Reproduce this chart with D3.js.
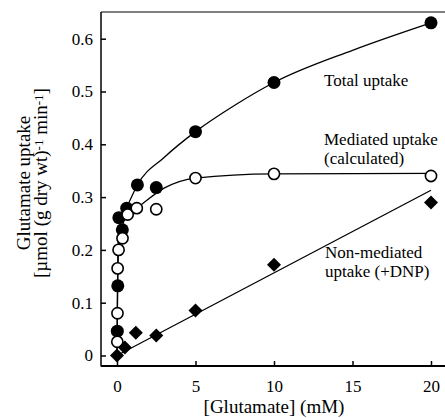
<!DOCTYPE html>
<html>
<head>
<meta charset="utf-8">
<script src="https://cdn.jsdelivr.net/npm/d3@7"></script>
<style>
  body { margin: 0; background: #fff; }
  svg text { font-family: "Liberation Serif", "Times New Roman", Tinos, "Nimbus Roman", "DejaVu Serif", serif !important; fill: #000; }
</style>
</head>
<body>
<div id="chart"></div>
<script>
// measured points [glutamate mM, uptake]
var totalUptake = [[0.02, 0.046], [0.05, 0.132], [0.12, 0.261], [0.34, 0.238], [0.62, 0.279],
                   [1.3, 0.323], [2.5, 0.318], [5, 0.424], [10, 0.517], [20, 0.63]];
var mediatedUptake = [[0.02, 0.026], [0.03, 0.08], [0.04, 0.165], [0.1, 0.2], [0.35, 0.222],
                      [0.68, 0.267], [1.26, 0.279], [2.5, 0.277], [5, 0.336], [10, 0.344], [20, 0.34]];
var nonMediated = [[0, 0.0], [0.5, 0.015], [1.2, 0.043], [2.5, 0.038], [5, 0.085], [10, 0.172], [20, 0.29]];

// fitted curves
var totalCurve = [[0, 0], [0.03, 0.12], [0.08, 0.22], [0.2, 0.25], [0.62, 0.28], [1.3, 0.323],
                  [3, 0.375], [5, 0.424], [7.5, 0.474], [10, 0.517], [15, 0.578], [20, 0.63]];
var mediatedCurve = [[0, 0], [0.03, 0.1], [0.1, 0.2], [0.3, 0.24], [0.65, 0.266], [1.3, 0.28],
                     [3, 0.317], [5, 0.336], [10, 0.344], [20, 0.345]];
var nonMediatedLine = [[0, 0], [20, 0.313]];

var xTicks = [0, 5, 10, 15, 20];
var yTicks = [0, 0.1, 0.2, 0.3, 0.4, 0.5, 0.6];

var svg = d3.select("#chart").append("svg")
    .attr("width", 445)
    .attr("height", 418);

var xScale = d3.scaleLinear().domain([0, 20]).range([117, 431]);
var yScale = d3.scaleLinear().domain([0, 0.6]).range([355.5, 38.7]);

// frame: left, top, bottom
svg.append("line").attr("x1", 101).attr("x2", 101).attr("y1", 12).attr("y2", 366.5)
   .attr("stroke", "#000").attr("stroke-width", 1.5);
svg.append("line").attr("x1", 101).attr("x2", 445).attr("y1", 12).attr("y2", 12)
   .attr("stroke", "#000").attr("stroke-width", 1);
svg.append("line").attr("x1", 101).attr("x2", 445).attr("y1", 366).attr("y2", 366)
   .attr("stroke", "#000").attr("stroke-width", 2);

var xAxis = d3.axisBottom(xScale)
    .tickValues(xTicks)
    .tickSizeInner(-5)
    .tickSizeOuter(0)
    .tickPadding(14);
svg.append("g").attr("id", "xAxisG")
   .attr("transform", "translate(0,366)")
   .call(xAxis);

var yAxis = d3.axisLeft(yScale)
    .tickValues(yTicks)
    .tickSizeInner(-5)
    .tickSizeOuter(0)
    .tickPadding(8)
    .tickFormat(function(d) { return d === 0 ? "0" : d3.format(".1f")(d); });
svg.append("g").attr("id", "yAxisG")
   .attr("transform", "translate(101,0)")
   .call(yAxis);

svg.selectAll("#xAxisG, #yAxisG").attr("font-family", null).attr("font-size", null);
svg.selectAll("#xAxisG .domain, #yAxisG .domain").remove();
svg.selectAll("#xAxisG line, #yAxisG line").attr("stroke", "#000").attr("stroke-width", 1.5);
svg.selectAll("#xAxisG text, #yAxisG text")
   .style("font-size", "17px")
   .attr("fill", "#000");

// curves
var curveLine = d3.line()
    .x(function(d) { return xScale(d[0]); })
    .y(function(d) { return yScale(d[1]); })
    .curve(d3.curveMonotoneX);

[totalCurve, mediatedCurve, nonMediatedLine].forEach(function(c) {
  svg.append("path")
     .attr("d", curveLine(c))
     .attr("fill", "none")
     .attr("stroke", "#000")
     .attr("stroke-width", 1.3);
});

// markers
svg.selectAll("circle.total")
   .data(totalUptake)
   .enter()
   .append("circle")
   .attr("class", "total")
   .attr("r", 6.5)
   .attr("cx", function(d) { return xScale(d[0]); })
   .attr("cy", function(d) { return yScale(d[1]); })
   .style("fill", "#000");

svg.selectAll("circle.mediated")
   .data(mediatedUptake)
   .enter()
   .append("circle")
   .attr("class", "mediated")
   .attr("r", 5.6)
   .attr("cx", function(d) { return xScale(d[0]); })
   .attr("cy", function(d) { return yScale(d[1]); })
   .style("fill", "#fff")
   .style("stroke", "#000")
   .style("stroke-width", 1.6);

svg.selectAll("path.dnp")
   .data(nonMediated)
   .enter()
   .append("path")
   .attr("class", "dnp")
   .attr("d", "M0,-7L7,0L0,7L-7,0Z")
   .attr("transform", function(d) { return "translate(" + xScale(d[0]) + "," + yScale(d[1]) + ")"; })
   .style("fill", "#000");

// labels
function label(x, y, str) {
  svg.append("text").attr("x", x).attr("y", y)
     .style("font-size", "17px")
     .text(str);
}
label(324, 86, "Total uptake");
label(324, 145, "Mediated uptake");
label(324, 164, "(calculated)");
label(325, 258, "Non-mediated");
label(325, 277, "uptake (+DNP)");

// axis titles
svg.append("text")
   .attr("x", 274).attr("y", 413)
   .attr("text-anchor", "middle")
   .style("font-size", "19px")
   .text("[Glutamate] (mM)");

var yTitle = svg.append("text")
   .attr("transform", "translate(30,183) rotate(-90)")
   .attr("text-anchor", "middle")
   .style("font-size", "19px");
yTitle.append("tspan").attr("x", 0).attr("y", 0).text("Glutamate uptake");
var l2 = yTitle.append("tspan").attr("x", 0).attr("y", 17);
l2.append("tspan").text("[\u00b5mol (g dry wt)");
l2.append("tspan").attr("dy", -4).style("font-size", "13px").text("-1");
l2.append("tspan").attr("dy", 4).text(" min");
l2.append("tspan").attr("dy", -4).style("font-size", "13px").text("-1");
l2.append("tspan").attr("dy", 4).text("]");
</script>
</body>
</html>
